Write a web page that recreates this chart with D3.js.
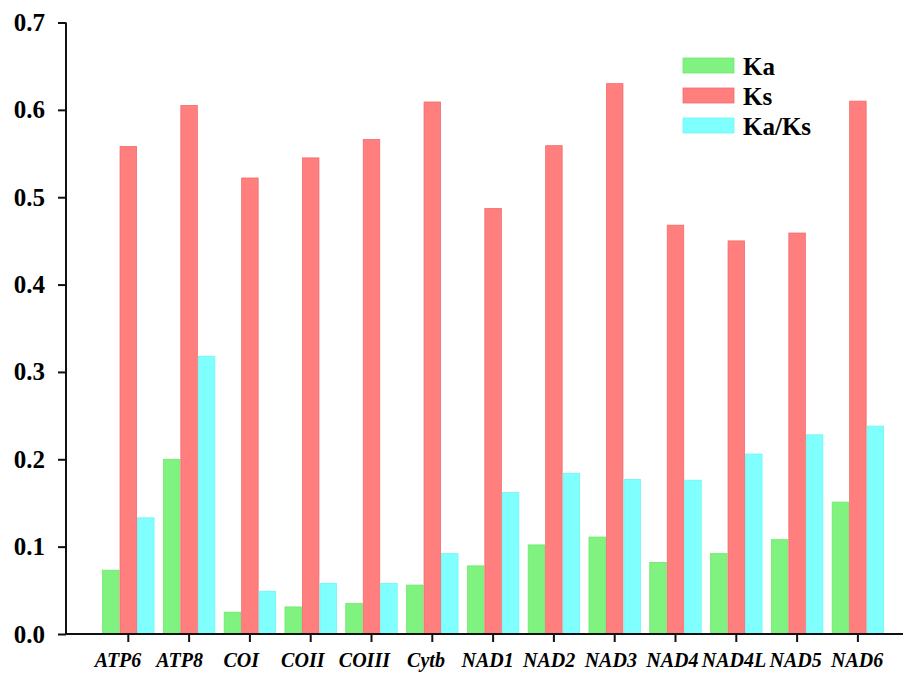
<!DOCTYPE html>
<html>
<head>
<meta charset="utf-8">
<script src="https://cdn.jsdelivr.net/npm/d3@7"></script>
<style>
  html, body { margin: 0; padding: 0; background: #fff; }
  svg { display: block; }
  text { font-family: "Liberation Serif", "Times New Roman", serif; font-weight: bold; fill: #000; }
</style>
</head>
<body>
<svg id="chart" width="907" height="674"></svg>
<script>
// Genes (categories along the x axis)
const genes = ["ATP6", "ATP8", "COI", "COII", "COIII", "Cytb", "NAD1", "NAD2", "NAD3", "NAD4", "NAD4L", "NAD5", "NAD6"];

// Series values per gene
const ka   = [0.073, 0.200, 0.025, 0.031, 0.035, 0.056, 0.078, 0.102, 0.111, 0.082, 0.092, 0.108, 0.151];
const ks   = [0.558, 0.605, 0.522, 0.545, 0.566, 0.609, 0.487, 0.559, 0.630, 0.468, 0.450, 0.459, 0.610];
const kaks = [0.133, 0.318, 0.049, 0.058, 0.058, 0.092, 0.162, 0.184, 0.177, 0.176, 0.206, 0.228, 0.238];

const seriesNames = ["Ka", "Ks", "Ka/Ks"];
const yTicks = [0.0, 0.1, 0.2, 0.3, 0.4, 0.5, 0.6, 0.7];

const fills   = ["#80f27f", "#ff7f7f", "#80ffff"];
const strokes = ["#6fe86e", "#f46a6a", "#6ff4f4"];

const svg = d3.select("#chart");

const axisX0 = 66, axisX1 = 903;
const y = d3.scaleLinear().domain([0, 0.7]).range([634, 22.5]);

const x = d3.scaleBand()
  .domain(genes)
  .range([97.9, 888.3])
  .paddingInner(0.137)
  .paddingOuter(0.0685);

const xSub = d3.scaleBand()
  .domain(seriesNames)
  .range([0, x.bandwidth()]);

// Gene names are spread on their own, slightly tighter line under the ticks
const xLabel = d3.scalePoint().domain(genes).range([118, 857.2]);

const rows = genes.map((g, i) => ({ gene: g, values: [ka[i], ks[i], kaks[i]] }));

// Bars
const groups = svg.append("g").selectAll("g")
  .data(rows)
  .join("g")
  .attr("transform", d => `translate(${x(d.gene)},0)`);

groups.selectAll("rect")
  .data(d => d.values.map((v, k) => ({ key: seriesNames[k], k, v })))
  .join("rect")
  .attr("x", d => xSub(d.key) + 0.5)
  .attr("width", xSub.bandwidth() - 1)
  .attr("y", d => y(d.v))
  .attr("height", d => y(0) - y(d.v))
  .attr("fill", d => fills[d.k])
  .attr("stroke", d => strokes[d.k])
  .attr("stroke-width", 0.8);

// Y axis
const yAxis = svg.append("g")
  .attr("transform", `translate(${axisX0},0)`)
  .call(d3.axisLeft(y).tickValues(yTicks).tickFormat(d3.format(".1f")).tickSize(8).tickPadding(13));
yAxis.select(".domain").attr("stroke", "#111").attr("stroke-width", 2).attr("d", `M0,${y(0.7)}V${y(0)}`);
yAxis.selectAll(".tick line").attr("stroke", "#111").attr("stroke-width", 2);
yAxis.selectAll(".tick text")
  .attr("font-size", 25)
  .attr("font-family", "Liberation Serif")
  .attr("font-weight", "bold")
  .attr("fill", "#000");

// X axis (ticks at group centres)
const xAxis = svg.append("g")
  .attr("transform", `translate(0,${y(0)})`)
  .call(d3.axisBottom(x).tickSize(8).tickFormat(""));
xAxis.select(".domain").attr("stroke", "#111").attr("stroke-width", 2).attr("d", `M${axisX0},0H${axisX1}`);
xAxis.selectAll(".tick line").attr("stroke", "#111").attr("stroke-width", 2);

// Gene names
svg.append("g").selectAll("text")
  .data(genes)
  .join("text")
  .attr("x", d => xLabel(d))
  .attr("y", y(0) + 33)
  .attr("text-anchor", "middle")
  .attr("font-size", 20)
  .attr("font-style", "italic")
  .text(d => d);

// Legend
const legend = svg.append("g").attr("transform", "translate(683,58)");
const items = legend.selectAll("g")
  .data(seriesNames)
  .join("g")
  .attr("transform", (d, i) => `translate(0,${i * 30})`);
items.append("rect")
  .attr("width", 51).attr("height", 15)
  .attr("fill", (d, i) => fills[i])
  .attr("stroke", (d, i) => strokes[i])
  .attr("stroke-width", 0.8);
items.append("text")
  .attr("x", 60).attr("y", 16.5)
  .attr("font-size", 25)
  .text(d => d);
</script>
</body>
</html>
